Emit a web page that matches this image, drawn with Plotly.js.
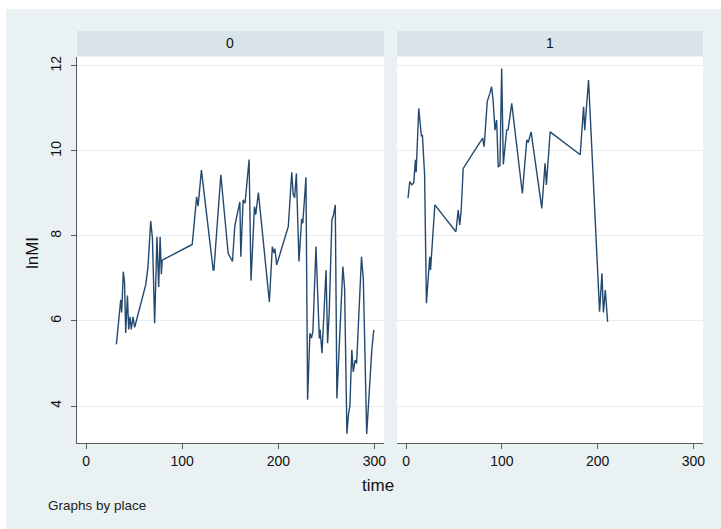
<!DOCTYPE html>
<html>
<head>
<meta charset="utf-8">
<script src="https://cdn.plot.ly/plotly-3.0.1.min.js"></script>
<style>
  html, body { margin: 0; padding: 0; background: #ffffff; }
  #chart { position: absolute; left: 6px; top: 9px; width: 715px; height: 520px; }
</style>
</head>
<body>
<div id="chart"></div>
<script>
// place = 0
const time0 = [31.5, 34, 36, 37, 38.7, 40, 41.2, 43, 44.3, 45.7, 47, 48.8, 50.5, 62, 64.4,
  67.2, 69, 71.3, 73.7, 75.5, 77, 78.3, 79.2, 110.4, 115, 116.5, 117.5, 120, 132.2, 133,
  140.2, 147.8, 152.3, 154.7, 156, 158, 160, 161, 163.4, 165.4, 169.6, 171.6, 175.2, 176.5,
  179.3, 190.7, 193.8, 195.5, 196.5, 198.3, 210.4, 214, 215.5, 217, 218.8, 221.5, 224.3,
  225.5, 226.5, 228.8, 230.5, 232.9, 234.5, 236, 239.2, 242.7, 243.5, 245.5, 249.7, 251.3,
  253, 255.8, 257.5, 259.3, 261, 267.2, 269, 271.4, 273, 274.5, 276.5, 278, 280, 281.5,
  286.6, 288.5, 292, 294.9, 296, 297.3, 299.4];
const lnMI0 = [5.45, 6.1, 6.5, 6.2, 7.16, 6.9, 5.72, 6.6, 5.8, 6.1, 5.8, 6.1, 5.85, 6.85, 7.28,
  8.35, 7.95, 5.95, 7.98, 6.8, 7.98, 7.1, 7.43, 7.8, 8.92, 8.7, 8.95, 9.55, 7.2, 7.2,
  9.44, 7.59, 7.4, 8.22, 8.38, 8.6, 8.8, 7.51, 8.85, 8.77, 9.8, 6.95, 8.69, 8.5,
  9.02, 6.45, 7.75, 7.6, 7.7, 7.32, 8.22, 9.5, 8.98, 8.9, 9.47, 7.4, 8.4,
  8.3, 8.6, 9.38, 4.15, 5.71, 5.6, 5.75, 7.75, 5.59, 5.8, 5.24, 7.2, 5.48,
  6.2, 8.38, 8.5, 8.73, 4.18, 7.28, 6.77, 3.35, 3.8, 4.0, 5.32, 4.8, 5.08, 5.0,
  7.51, 6.97, 3.34, 4.45, 4.85, 5.32, 5.79];

// place = 1
const time1 = [2, 3.8, 6, 8, 9.7, 10.5, 13.2, 16, 17, 18.4, 19.3, 21.2, 24.7, 25.5, 30,
  52, 54.4, 56, 57.5, 59.6, 79.9, 81.5, 84.7, 87.5, 89.3, 90.8, 92.8, 94.5, 96.2, 98,
  99.8, 101.5, 105, 106.5, 110.3, 121.4, 126, 127.5, 130.5, 141.7, 145.1, 146.5, 150.4,
  181.8, 185.3, 186.5, 190.5, 202, 204.5, 206, 208, 210.4];
const lnMI1 = [8.89, 9.28, 9.2, 9.25, 9.79, 9.5, 11.0, 10.34, 10.38, 9.79, 9.44, 6.42, 7.51, 7.2, 8.73,
  8.1, 8.61, 8.26, 8.6, 9.59, 10.3, 10.1, 11.16, 11.36, 11.51, 11.2, 10.49, 10.73, 9.63, 9.65,
  11.94, 9.68, 10.49, 10.5, 11.12, 9.0, 10.26, 10.2, 10.45, 8.65, 9.71, 9.2, 10.45,
  9.91, 11.04, 10.49, 11.67, 6.22, 7.12, 6.2, 6.73, 5.98];

const panelLabels = ['0', '1'];
const xTicks = [0, 100, 200, 300];
const yTicks = [4, 6, 8, 10, 12];

const lineColor = '#24496e';
const bg = '#e9f1f3';
const strip = '#d8e4ea';
const gridC = '#e6eef1';
const axC = '#5b5b5b';
const font = 'Liberation Sans, Arial, sans-serif';

const traces = [
  { x: time0, y: lnMI0, type: 'scatter', mode: 'lines', xaxis: 'x', yaxis: 'y',
    line: { color: lineColor, width: 1.4 }, hoverinfo: 'skip' },
  { x: time1, y: lnMI1, type: 'scatter', mode: 'lines', xaxis: 'x2', yaxis: 'y2',
    line: { color: lineColor, width: 1.4 }, hoverinfo: 'skip' }
];

const xCommon = {
  range: [-9.5, 310], tickvals: xTicks, ticktext: xTicks.map(String),
  showgrid: false, zeroline: false, showline: true, linecolor: axC, linewidth: 1,
  ticks: 'outside', ticklen: 5, tickcolor: axC, tickwidth: 1,
  tickfont: { family: font, size: 14, color: '#111' }
};
const yRange = [3.13, 12.21];

const layout = {
  width: 715, height: 520,
  paper_bgcolor: bg, plot_bgcolor: '#ffffff',
  showlegend: false,
  margin: { l: 71, r: 18, t: 48, b: 86 },
  xaxis: Object.assign({}, xCommon, { domain: [0, 0.4904], anchor: 'y' }),
  xaxis2: Object.assign({}, xCommon, { domain: [0.5112, 1], anchor: 'y2' }),
  yaxis: {
    range: yRange, tickvals: yTicks, ticktext: yTicks.map(String),
    showgrid: true, gridcolor: gridC, gridwidth: 1, zeroline: false,
    showline: true, linecolor: axC, linewidth: 1,
    ticks: 'outside', ticklen: 5, tickcolor: axC, tickwidth: 1,
    tickangle: -90, ticklabelstandoff: 4,
    tickfont: { family: font, size: 14, color: '#111' }, anchor: 'x'
  },
  yaxis2: {
    range: yRange, tickvals: yTicks, showgrid: true, gridcolor: gridC, gridwidth: 1,
    zeroline: false, showline: false, ticks: '', showticklabels: false, anchor: 'x2'
  },
  shapes: [
    { type: 'rect', xref: 'x domain', yref: 'paper', x0: 0, x1: 1, y0: 1.0026, y1: 1.0674,
      fillcolor: strip, line: { width: 0 }, layer: 'below' },
    { type: 'rect', xref: 'x2 domain', yref: 'paper', x0: 0, x1: 1, y0: 1.0026, y1: 1.0674,
      fillcolor: strip, line: { width: 0 }, layer: 'below' }
  ],
  annotations: [
    { text: panelLabels[0], xref: 'x domain', yref: 'paper', x: 0.5, y: 1.035,
      xanchor: 'center', yanchor: 'middle',
      showarrow: false, font: { family: font, size: 14, color: '#111' } },
    { text: panelLabels[1], xref: 'x2 domain', yref: 'paper', x: 0.5, y: 1.035,
      xanchor: 'center', yanchor: 'middle',
      showarrow: false, font: { family: font, size: 14, color: '#111' } },
    { text: 'lnMI', xref: 'paper', yref: 'paper', x: -0.0719, y: 0.492, textangle: -90,
      xanchor: 'center', yanchor: 'middle',
      showarrow: false, font: { family: font, size: 17, color: '#111' } },
    { text: 'time', xref: 'paper', yref: 'paper', x: 0.481, y: -0.111,
      xanchor: 'center', yanchor: 'middle',
      showarrow: false, font: { family: font, size: 17, color: '#111' } },
    { text: 'Graphs by place', xref: 'paper', yref: 'paper', x: -0.0495, y: -0.163,
      xanchor: 'left', yanchor: 'middle',
      showarrow: false, font: { family: font, size: 13.5, color: '#222' } }
  ]
};

Plotly.newPlot('chart', traces, layout, { displayModeBar: false, staticPlot: true });
</script>
</body>
</html>
